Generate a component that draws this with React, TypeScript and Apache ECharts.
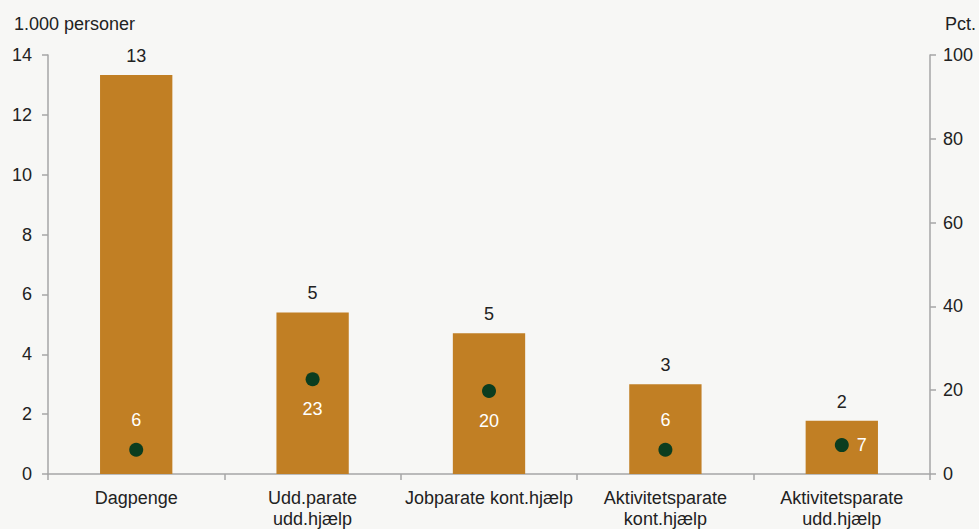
import React, { useEffect, useRef } from "react";
import * as echarts from "echarts";

const categories = [
  "Dagpenge",
  "Udd.parate\nudd.hjælp",
  "Jobparate kont.hjælp",
  "Aktivitetsparate\nkont.hjælp",
  "Aktivitetsparate\nudd.hjælp",
];
const persons = [13.33, 5.4, 4.7, 3.0, 1.78];
const pct = [5.8, 22.6, 19.8, 5.8, 6.9];
const pctLabelPos = ["top", "bottom", "bottom", "top", "right"];

export default function App() {
  const ref = useRef<HTMLDivElement>(null);
  useEffect(() => {
    const chart = echarts.init(ref.current!, null, { renderer: "svg" });
    const font = "'Liberation Sans', Arial, sans-serif";
    const axisColor = "#a6a6a6";
    const fs = 18;
    chart.setOption({
      animation: false,
      backgroundColor: "#f7f7f5",
      textStyle: { fontFamily: font },
      grid: { left: 48, right: 49, top: 55, bottom: 53 },
      graphic: [
        { type: "text", left: 14, top: 15, style: { text: "1.000 personer", fontSize: fs, fill: "#222", fontFamily: font } },
        { type: "text", right: 3, top: 15, style: { text: "Pct.", fontSize: fs, fill: "#222", fontFamily: font } },
      ],
      xAxis: {
        type: "category",
        data: categories,
        axisLine: { lineStyle: { color: axisColor, width: 1.5 } },
        axisTick: { show: true, length: 6, lineStyle: { color: axisColor, width: 1.5 } },
        axisLabel: { color: "#222", fontSize: fs, margin: 13, lineHeight: 21, interval: 0 },
      },
      yAxis: [
        {
          type: "value",
          min: 0,
          max: 14,
          interval: 2,
          splitLine: { show: false },
          axisLine: { show: true, lineStyle: { color: axisColor, width: 1.5 } },
          axisTick: { show: true, length: 6, lineStyle: { color: axisColor, width: 1.5 } },
          axisLabel: { color: "#222", fontSize: fs, margin: 16 },
        },
        {
          type: "value",
          min: 0,
          max: 100,
          interval: 20,
          position: "right",
          splitLine: { show: false },
          axisLine: { show: true, lineStyle: { color: axisColor, width: 1.5 } },
          axisTick: { show: true, length: 6, lineStyle: { color: axisColor, width: 1.5 } },
          axisLabel: { color: "#222", fontSize: fs, margin: 13 },
        },
      ],
      series: [
        {
          type: "bar",
          data: persons,
          barWidth: "41%",
          itemStyle: { color: "#c17f24" },
          label: {
            show: true,
            position: "top",
            distance: 10,
            color: "#222",
            fontSize: fs,
            formatter: (p: any) => String(Math.round(p.value)),
          },
        },
        {
          type: "scatter",
          yAxisIndex: 1,
          symbolSize: 14,
          itemStyle: { color: "#0b3d1f", opacity: 1 },
          data: pct.map((v, i) => ({
            value: v,
            label: {
              show: true,
              position: pctLabelPos[i],
              distance: pctLabelPos[i] === "right" ? 8 : 14,
              color: "#ffffff",
              fontSize: fs,
              formatter: String(Math.round(v)),
            },
          })),
        },
      ],
    });
    return () => chart.dispose();
  }, []);
  return <div ref={ref} style={{ width: 979, height: 529, position: "absolute", left: 0, top: 0 }} />;
}
